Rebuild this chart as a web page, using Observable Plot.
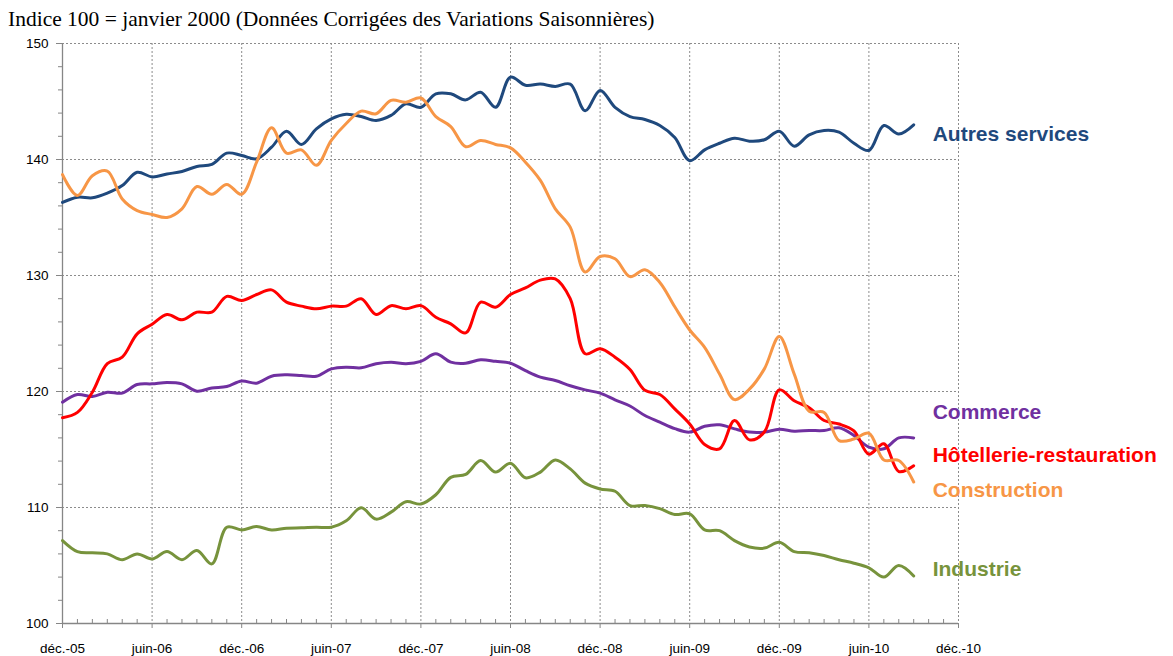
<!DOCTYPE html>
<html>
<head>
<meta charset="utf-8">
<script src="https://cdn.jsdelivr.net/npm/d3@7"></script>
<script src="https://cdn.jsdelivr.net/npm/@observablehq/plot@0.6"></script>
<style>
  html, body { margin: 0; padding: 0; background: #fff; }
  #wrap { position: relative; width: 1173px; height: 656px; }
  #title { position: absolute; left: 8px; top: 9px; font-family: "Liberation Serif", "Times New Roman", serif; font-size: 21.5px; line-height: 1; color: #000; white-space: nowrap; }
  #chart { position: absolute; left: 0; top: 30px; }
</style>
</head>
<body>
<div id="wrap">
  <div id="title">Indice 100 = janvier 2000 (Données Corrigées des Variations Saisonnières)</div>
  <div id="chart"></div>
</div>
<script>
// Monthly index, déc. 2005 (0) ... sept. 2010 (57)
const seriesNames = ["Autres services", "Commerce", "Hôtellerie-restauration", "Construction", "Industrie"];

const autresServices = [136.3, 136.75, 136.7, 137.1, 137.75, 138.9, 138.5, 138.75, 138.97, 139.4,
  139.57, 140.55, 140.35, 140.06, 141.06, 142.44, 141.3, 142.64, 143.5, 143.9,
  143.7, 143.36, 143.8, 144.8, 144.5, 145.66, 145.66, 145.14, 145.8, 144.5,
  147.1, 146.4, 146.5, 146.3, 146.5, 144.2, 145.95, 144.5, 143.7, 143.45,
  142.93, 141.9, 139.9, 140.83, 141.4, 141.84, 141.58, 141.7, 142.44, 141.15,
  142.13, 142.5, 142.36, 141.4, 140.78, 142.93, 142.2, 142.99];

const commerce = [119.08, 119.74, 119.57, 119.94, 119.86, 120.6, 120.66, 120.78, 120.66, 120.03,
  120.3, 120.43, 120.9, 120.72, 121.32, 121.44, 121.38, 121.32, 121.95, 122.1,
  122.04, 122.4, 122.53, 122.4, 122.6, 123.25, 122.53, 122.44, 122.73, 122.6,
  122.44, 121.8, 121.24, 120.95, 120.5, 120.14, 119.86, 119.28, 118.75, 117.93,
  117.36, 116.8, 116.5, 117.0, 117.13, 116.78, 116.5, 116.5, 116.75, 116.58,
  116.64, 116.64, 116.87, 116.2, 115.2, 115.06, 116.0, 116.0];

const hotellerie = [117.73, 118.2, 119.94, 122.4, 122.96, 124.97, 125.8, 126.64, 126.18, 126.84,
  126.84, 128.2, 127.84, 128.36, 128.76, 127.7, 127.36, 127.13, 127.36, 127.36,
  128.0, 126.64, 127.4, 127.13, 127.4, 126.4, 125.83, 125.05, 127.7, 127.27,
  128.36, 128.93, 129.6, 129.7, 128.0, 123.25, 123.68, 122.96, 121.9, 120.1,
  119.74, 118.5, 117.2, 115.43, 115.06, 117.5, 115.83, 116.5, 120.14, 119.2,
  118.6, 117.5, 117.2, 116.6, 114.6, 115.5, 113.1, 113.6];

const construction = [138.7, 136.9, 138.6, 139.0, 136.6, 135.6, 135.26, 135.0, 135.75, 137.67,
  137.0, 137.85, 137.0, 139.77, 142.73, 140.55, 140.83, 139.5, 141.64, 143.1,
  144.17, 143.94, 145.1, 144.94, 145.3, 143.7, 142.84, 141.1, 141.64, 141.3,
  141.0, 139.77, 138.2, 135.75, 134.17, 130.3, 131.64, 131.44, 129.9, 130.5,
  129.4, 127.3, 125.3, 123.8, 121.5, 119.3, 120.2, 121.95, 124.74, 121.5,
  118.3, 118.2, 115.77, 115.9, 116.4, 114.1, 114.05, 112.2];

const industrie = [107.15, 106.2, 106.1, 106.0, 105.5, 106.0, 105.57, 106.2, 105.5, 106.3,
  105.14, 108.3, 108.07, 108.36, 108.07, 108.22, 108.25, 108.3, 108.3, 108.85,
  109.97, 109.0, 109.6, 110.5, 110.3, 111.1, 112.6, 112.85, 114.05, 113.05,
  113.82, 112.56, 113.05, 114.1, 113.33, 112.1, 111.6, 111.4, 110.17, 110.17,
  109.9, 109.4, 109.45, 108.07, 108.0, 107.15, 106.6, 106.5, 107.0, 106.2,
  106.1, 105.86, 105.5, 105.2, 104.8, 104.0, 105.0, 104.1];

const tickLabels = ["déc.-05", "juin-06", "déc.-06", "juin-07", "déc.-07", "juin-08",
  "déc.-08", "juin-09", "déc.-09", "juin-10", "déc.-10"];
const yTicks = [100, 110, 120, 130, 140, 150];

// styles (kept apart from data)
const colors = ["#1F497D", "#7030A0", "#FF0000", "#F79646", "#77933C"];
const labelDy = [9, -26, -10, 8, -7];

const valuesList = [autresServices, commerce, hotellerie, construction, industrie];
const rows = valuesList.flatMap((vals, s) => vals.map((v, i) => ({series: seriesNames[s], i, v})));
const lastRows = valuesList.map((vals, s) => ({series: seriesNames[s], i: vals.length - 1, v: vals[vals.length - 1]}));

const nMonths = (tickLabels.length - 1) * 6;
const majorX = d3.range(0, nMonths + 1, 6);
const minorX = d3.range(0, nMonths + 1).filter(d => d % 6 !== 0);
const minorY = d3.range(100, 151, 2).filter(d => d % 10 !== 0);

const grid = "#8c8c8c";
const axisColor = "#868686";
const sans = "'Liberation Sans', Arial, sans-serif";

const labelMarks = lastRows.map((r, s) =>
  Plot.text([r], {x: "i", y: "v", text: "series", fill: "series", dx: 19, dy: labelDy[s], textAnchor: "start", fontSize: 21, fontWeight: "bold"})
);

const chart = Plot.plot({
  width: 1173,
  height: 626,
  marginLeft: 62,
  marginRight: 215,
  marginTop: 13,
  marginBottom: 33,
  x: {domain: [0, nMonths]},
  y: {domain: [100, 150]},
  color: {domain: seriesNames, range: colors},
  style: {fontFamily: sans, background: "transparent"},
  marks: [
    Plot.ruleY(yTicks.filter(d => d > 100), {stroke: grid, strokeDasharray: "2,2", strokeWidth: 1}),
    Plot.ruleX(majorX.filter(d => d > 0), {stroke: grid, strokeDasharray: "2,2", strokeWidth: 1}),
    Plot.ruleX([0], {stroke: axisColor, strokeWidth: 1.3}),
    Plot.ruleY([100], {stroke: axisColor, strokeWidth: 1.3}),
    Plot.axisY({ticks: yTicks, tickSize: 6, tickPadding: 8, stroke: axisColor, fill: "#000", fontSize: 13.5, label: null}),
    Plot.axisY({ticks: minorY, tickSize: 4, tickFormat: () => "", stroke: axisColor, label: null}),
    Plot.axisX({ticks: majorX, tickSize: 5, tickPadding: 15, tickFormat: d => tickLabels[d / 6], stroke: axisColor, fill: "#000", fontSize: 13.5, label: null}),
    Plot.ruleX(minorX, {x: d => d, y1: () => 100, y2: () => 100, insetTop: -4, stroke: axisColor, strokeWidth: 1}),
    Plot.line(rows, {x: "i", y: "v", z: "series", stroke: "series", strokeWidth: 3, curve: "catmull-rom"}),
    ...labelMarks
  ]
});
document.getElementById("chart").appendChild(chart);
</script>
</body>
</html>
